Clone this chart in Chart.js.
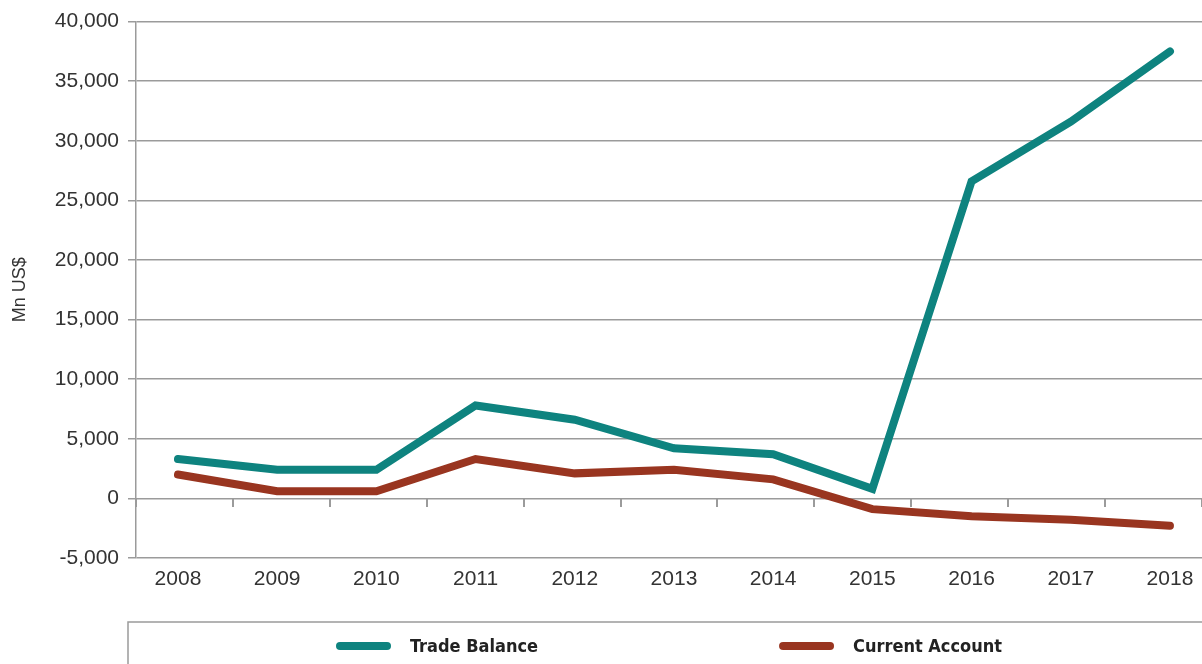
<!DOCTYPE html>
<html>
<head>
<meta charset="utf-8">
<script src="https://cdn.jsdelivr.net/npm/chart.js@4/dist/chart.umd.min.js"></script>
<style>
  html, body { margin: 0; padding: 0; background: #fff; }
  #wrap { width: 1202px; height: 664px; }
</style>
</head>
<body>
<div id="wrap"><canvas id="myChart" width="1202" height="664"></canvas></div>
<script>
// données (Mn US$)
const years = [2008, 2009, 2010, 2011, 2012, 2013, 2014, 2015, 2016, 2017, 2018];
const tradeBalance = [3300, 2400, 2400, 7800, 6600, 4200, 3700, 800, 26600, 31600, 37500];
const currentAccount = [2000, 600, 600, 3300, 2100, 2400, 1600, -900, -1500, -1800, -2300];
const yTicks = [-5000, 0, 5000, 10000, 15000, 20000, 25000, 30000, 35000, 40000];

const X_MIN = 2007.577;
const X_MAX = 2018.323;
const GRID = '#9b9b9b';
const TEXT = '#333333';
const LEGEND_FONT = "bold 18px 'DejaVu Sans Condensed', 'Liberation Sans', sans-serif";

function toPoints(values) {
    return years.map(function (y, i) { return { x: y, y: values[i] }; });
}

// légende dessinée à la main, dans un cadre
const boxedLegend = {
    id: 'boxedLegend',
    afterDraw: function (chart) {
        const ctx = chart.ctx;
        const area = chart.chartArea;
        const top = chart.scales.x.bottom;
        ctx.save();
        ctx.strokeStyle = GRID;
        ctx.lineWidth = 1.5;
        ctx.strokeRect(area.left - 8, top, chart.width + 20, chart.height);

        ctx.font = LEGEND_FONT;
        const lineLen = 55, textGap = 19, itemGap = 241;
        const items = chart.data.datasets.map(function (ds) {
            return { ds: ds, w: lineLen + textGap + ctx.measureText(ds.label).width };
        });
        let total = itemGap * (items.length - 1);
        items.forEach(function (it) { total += it.w; });
        let x = (area.left + area.right) / 2 - total / 2;
        const y = top + 24;
        items.forEach(function (it) {
            ctx.strokeStyle = it.ds.borderColor;
            ctx.lineWidth = 8;
            ctx.lineCap = 'round';
            ctx.beginPath();
            ctx.moveTo(x + 4, y);
            ctx.lineTo(x + lineLen - 4, y);
            ctx.stroke();
            ctx.fillStyle = '#222';
            ctx.textBaseline = 'middle';
            ctx.fillText(it.ds.label, x + lineLen + textGap, y + 1);
            x += it.w + itemGap;
        });
        ctx.restore();
    }
};

document.addEventListener("DOMContentLoaded", function () {
    const ctx = document.getElementById('myChart').getContext('2d');
    const myChart = new Chart(ctx, {
        type: 'line',
        data: {
            datasets: [{
                label: 'Trade Balance',
                data: toPoints(tradeBalance),
                borderColor: '#0e837f',
                backgroundColor: '#0e837f',
                borderWidth: 8,
                borderCapStyle: 'round',
                pointRadius: 0,
                tension: 0
            }, {
                label: 'Current Account',
                data: toPoints(currentAccount),
                borderColor: '#993520',
                backgroundColor: '#993520',
                borderWidth: 8,
                borderCapStyle: 'round',
                pointRadius: 0,
                tension: 0
            }]
        },
        options: {
            responsive: false,
            animation: false,
            layout: { padding: { top: 21, right: 0, bottom: 42, left: 0 } },
            scales: {
                x: {
                    type: 'linear',
                    min: X_MIN,
                    max: X_MAX,
                    afterBuildTicks: function (scale) {
                        scale.ticks = years.map(function (v) { return { value: v }; });
                    },
                    afterFit: function (scale) { scale.height = 64; },
                    grid: { display: false },
                    border: { display: false },
                    ticks: {
                        autoSkip: false,
                        maxRotation: 0,
                        padding: 1,
                        color: TEXT,
                        font: { family: "'Liberation Sans', Arial, sans-serif", size: 21 },
                        callback: function (v) { return String(v); }
                    }
                },
                xTicks: {
                    type: 'category',
                    labels: years,
                    offset: true,
                    position: { y: 0 },
                    grid: { offset: true, drawOnChartArea: false, drawTicks: true, tickLength: 9, color: GRID, lineWidth: 2 },
                    border: { display: false },
                    ticks: { display: false }
                },
                y: {
                    min: -5000,
                    max: 40000,
                    afterBuildTicks: function (scale) {
                        scale.ticks = yTicks.map(function (v) { return { value: v }; });
                    },
                    afterFit: function (scale) { scale.width = 136; },
                    grid: { color: GRID, lineWidth: 1.5, tickLength: 8 },
                    border: { color: GRID, width: 1.5 },
                    ticks: {
                        padding: 9,
                        color: TEXT,
                        font: { family: "'Liberation Sans', Arial, sans-serif", size: 21 },
                        callback: function (v) { return v.toLocaleString('en-US'); }
                    },
                    title: {
                        display: true,
                        text: 'Mn US$',
                        color: TEXT,
                        padding: { top: 9, bottom: 0 },
                        font: { family: "'Liberation Sans', Arial, sans-serif", size: 18 }
                    }
                }
            },
            plugins: {
                legend: { display: false },
                tooltip: { enabled: false }
            }
        },
        plugins: [boxedLegend]
    });
});
</script>
</body>
</html>
